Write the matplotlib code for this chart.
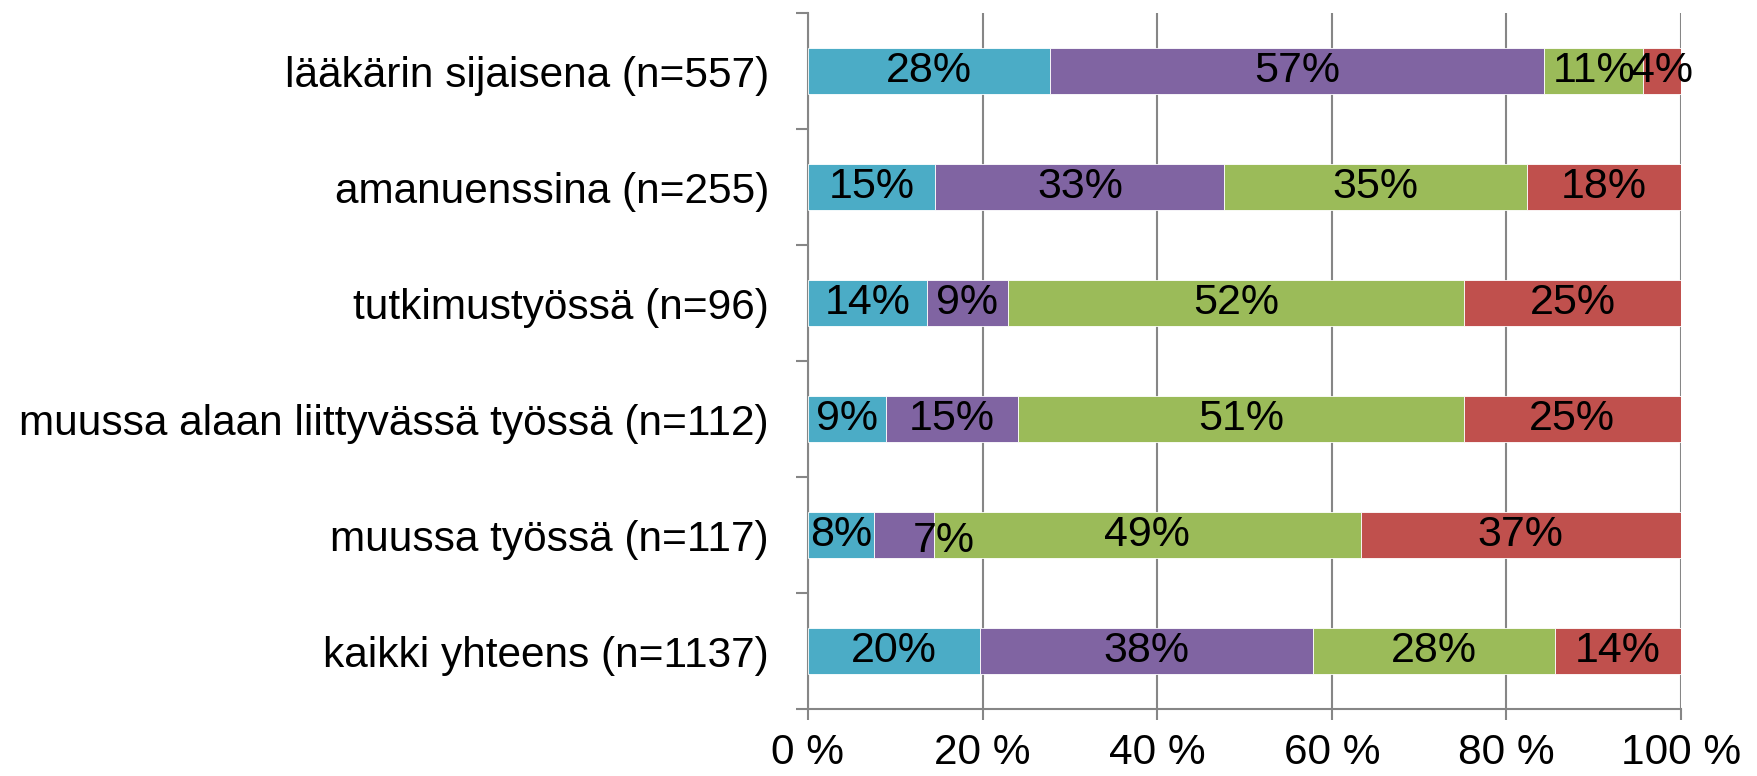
import matplotlib
matplotlib.use("Agg")
import matplotlib.pyplot as plt
import numpy as np

plt.rcParams['font.family'] = ['Liberation Sans', 'DejaVu Sans']

categories = [
    "lääkärin sijaisena (n=557)",
    "amanuenssina (n=255)",
    "tutkimustyössä (n=96)",
    "muussa alaan liittyvässä työssä (n=112)",
    "muussa työssä (n=117)",
    "kaikki yhteens (n=1137)",
]
teal = [27.7, 14.6, 13.6, 8.9, 7.6, 19.7]
purple = [56.6, 33.1, 9.3, 15.2, 6.8, 38.2]
green = [11.4, 34.7, 52.3, 51.0, 48.9, 27.7]
red = [4.3, 17.6, 24.8, 24.9, 36.7, 14.4]
series = [teal, purple, green, red]
colors = ["#4BACC6", "#8064A2", "#9BBB59", "#C0504D"]
xtick_labels = ["0 %", "20 %", "40 %", "60 %", "80 %", "100 %"]

FS_CAT = 30.5
FS_LBL = 31

fig = plt.figure(figsize=(17.58, 7.76), dpi=100)
ax = fig.add_axes([0.4596, 0.0863, 0.9562 - 0.4596, 0.983 - 0.0863])

n = len(categories)
y = np.arange(n)[::-1]
left = np.zeros(n)
for si, (vals, col) in enumerate(zip(series, colors)):
    vals = np.array(vals)
    ax.barh(y, vals, left=left, height=0.4, color=col, edgecolor='white',
            linewidth=0.6, zorder=3)
    for i in range(n):
        cx = left[i] + vals[i] / 2
        cy = y[i]
        dx, dy = 0, 0
        # Excel shifted the overlapping label in "muussa työssä" purple segment
        if si == 1 and i == 4:
            dx, dy = 4.5, -0.05
        ax.text(cx + dx, cy + dy, f"{round(vals[i]):d}%", ha='center', va='center',
                fontsize=FS_LBL, color='black', zorder=5, clip_on=False)
    left = left + vals

ax.set_xlim(0, 100)
ax.set_ylim(-0.5, n - 0.5)
ax.set_xticks([0, 20, 40, 60, 80, 100])
ax.set_xticklabels(xtick_labels, fontsize=FS_CAT)
ax.set_yticks(y)
ax.set_yticklabels(categories, fontsize=FS_CAT)
ax.set_yticks(np.arange(-0.5, n, 1.0), minor=True)
ax.tick_params(axis='y', which='major', length=0, pad=28)
ax.tick_params(axis='y', which='minor', length=9, width=1.5, color='#868686', direction='out')
ax.tick_params(axis='x', which='major', length=8, width=1.5, color='#868686', direction='out', pad=9)

ax.grid(axis='x', color='#868686', linewidth=1.5, zorder=0)
for s in ['top', 'right']:
    ax.spines[s].set_visible(False)
for s in ['left', 'bottom']:
    ax.spines[s].set_color('#868686')
    ax.spines[s].set_linewidth(1.5)

fig.savefig("out.png", dpi=100)
